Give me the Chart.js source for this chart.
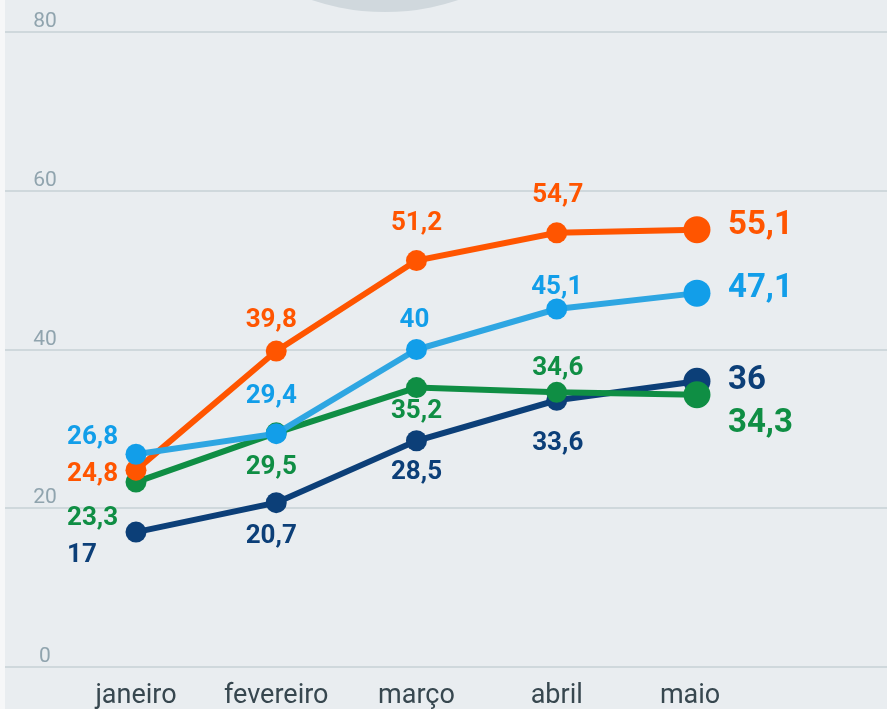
<!DOCTYPE html>
<html>
<head>
<meta charset="utf-8">
<script src="https://cdn.jsdelivr.net/npm/chart.js@4.4.1/dist/chart.umd.min.js"></script>
<style>
  html, body { margin: 0; padding: 0; background: #f6f7f8; }
  #wrap { position: absolute; left: 5px; top: 0; width: 882px; height: 709px; background: #e9edf0; overflow: hidden; }
  #blob { position: absolute; left: 145px; top: -468px; width: 470px; height: 480px; border-radius: 50%; background: #d0d8dd; }
  canvas { position: absolute; left: 0; top: 0; }
</style>
</head>
<body>
<div id="wrap">
  <div id="blob"></div>
  <canvas id="chart" width="882" height="709"></canvas>
</div>
<script>
const months = ['janeiro', 'fevereiro', 'março', 'abril', 'maio']
const yTicks = [0, 20, 40, 60, 80]

const lightBlue = [26.8, 29.4, 40, 45.1, 47.1]
const orange = [24.8, 39.8, 51.2, 54.7, 55.1]
const green = [23.3, 29.5, 35.2, 34.6, 34.3]
const navy = [17, 20.7, 28.5, 33.6, 36]

// label offsets from each point [dx, dy], left aligned on first and last month
const labelPos = {
    lightBlue: [[-69, -17], [-5, -37], [-2, -29], [0, -22], [31, -4]],
    orange: [[-69, 4], [-5, -31], [0, -37], [1, -37], [31, -4]],
    green: [[-69, 36], [-5, 35], [0, 24], [1, -24], [31, 29]],
    navy: [[-69, 23], [-5, 34], [0, 32], [1, 43], [31, -1]]
}

const toPoints = arr => arr.map((v, i) => ({x: i, y: v}))
const fmt = v => String(v).replace('.', ',')

const series = [
    {key: 'lightBlue', data: lightBlue, line: '#2ea6e2', point: '#129ee9'},
    {key: 'orange', data: orange, line: '#ff5500', point: '#ff5500'},
    {key: 'green', data: green, line: '#0f8e44', point: '#0f8e44'},
    {key: 'navy', data: navy, line: '#0c3f78', point: '#0c3f78'}
]

const valueLabels = {
    id: 'valueLabels',
    afterDatasetsDraw(chart) {
        const ctx = chart.ctx
        ctx.save()
        ctx.textBaseline = 'middle'
        series.forEach((s, di) => {
            const meta = chart.getDatasetMeta(di)
            meta.data.forEach((pt, i) => {
                const [dx, dy] = labelPos[s.key][i]
                const last = i === s.data.length - 1
                ctx.fillStyle = s.point
                ctx.font = (last ? 'bold 33px' : 'bold 26px') + ' Roboto'
                ctx.textAlign = (i === 0 || last) ? 'left' : 'center'
                ctx.fillText(fmt(s.data[i]), pt.x + dx, pt.y + dy)
            })
        })
        ctx.restore()
    }
}

const yLabels = {
    id: 'yLabels',
    afterDraw(chart) {
        const ctx = chart.ctx
        const y = chart.scales.y
        ctx.save()
        ctx.font = '21px Roboto'
        ctx.fillStyle = '#90a4ae'
        ctx.textAlign = 'center'
        ctx.textBaseline = 'alphabetic'
        yTicks.forEach(t => {
            ctx.fillText(String(t), 40, y.getPixelForValue(t) - 5)
        })
        ctx.restore()
    }
}

new Chart(document.getElementById('chart'), {
    type: 'line',
    data: {
        datasets: series.map(s => ({
            data: toPoints(s.data),
            borderColor: s.line,
            backgroundColor: s.point,
            pointBackgroundColor: s.point,
            pointBorderWidth: 0,
            borderWidth: 6,
            pointRadius: s.data.map((v, i) => i === s.data.length - 1 ? 13.5 : 10.5),
            tension: 0,
            fill: false,
            clip: false
        }))
    },
    options: {
        responsive: false,
        animation: false,
        layout: {autoPadding: false, padding: {top: 32, left: 0, right: 0, bottom: 0}},
        plugins: {legend: {display: false}, tooltip: {enabled: false}},
        scales: {
            x: {
                type: 'linear',
                min: -0.934,
                max: 5.355,
                afterBuildTicks: scale => { scale.ticks = months.map((m, i) => ({value: i})) },
                afterFit: scale => { scale.height = 42 },
                ticks: {
                    // last month label sits a little left of its point in the original
                    callback: v => v === months.length - 1 ? months[v] + '\u2002' : (months[v] || ''),
                    font: {family: 'Roboto', size: 27},
                    color: '#37474f',
                    padding: 5,
                    maxRotation: 0,
                    autoSkip: false
                },
                grid: {display: false},
                border: {display: false}
            },
            y: {
                min: 0,
                max: 80,
                afterFit: scale => { scale.width = 0 },
                ticks: {display: false, stepSize: 20},
                grid: {color: '#cfd8dc', lineWidth: 2, drawTicks: false},
                border: {display: false}
            }
        }
    },
    plugins: [valueLabels, yLabels]
})
</script>
</body>
</html>
